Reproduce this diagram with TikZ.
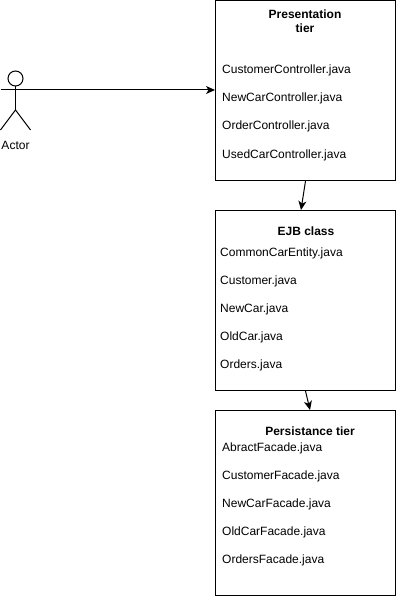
\documentclass[tikz,border=0pt]{standalone}
\usepackage{fontspec}
\setmainfont{Liberation Sans}
\usetikzlibrary{arrows.meta}

\tikzstyle{tier}=[draw=black,fill=white,line width=1pt,minimum width=180pt,inner sep=0pt]
\tikzstyle{item}=[anchor=base west,inner sep=0pt,font=\fontsize{12}{14}\selectfont]
\tikzstyle{heading}=[anchor=base,inner sep=0pt,font=\fontsize{12}{14}\selectfont\bfseries]
\tikzstyle{stick}=[draw=black,line width=1pt]
\tikzstyle{link}=[draw=black,line width=1pt,-{Stealth[length=9pt,width=8pt,inset=2.5pt]}]

\begin{document}
\begin{tikzpicture}[x=1pt,y=-1pt]

   \useasboundingbox (0,0) rectangle (401,596);

   % Actor

   \draw[stick] (15.5,78.5) circle (7.5);
   \draw[stick] (15.5,86) -- (15.5,110) coordinate(hip);
   \draw[stick] (0.5,90) -- (30.5,90) coordinate(arm);
   \draw[stick] (0.5,130) -- (hip) -- (30.5,130);
   \node[anchor=base,inner sep=0pt,font=\fontsize{12}{14}\selectfont] (actor) at (15.5,149.5) {Actor};

   % Presentation tier

   \node[tier,minimum height=180pt] (presentation) at (305.5,90.5) {};
   \node[heading] (presentationt) at (305,19) {Presentation};
   \node[heading] (presentationb) at (305,33) {tier};
   \node[item] (customerctl) at (222,74) {CustomerController.java};
   \node[item] (newcarctl) at (222,102) {NewCarController.java};
   \node[item] (orderctl) at (222,130) {OrderController.java};
   \node[item] (usedcarctl) at (222,158) {UsedCarController.java};

   % EJB class

   \node[tier,minimum height=180pt] (ejb) at (305.5,300.5) {};
   \node[heading] (ejbt) at (306,235) {EJB class};
   \node[item] (commoncar) at (220,256) {CommonCarEntity.java};
   \node[item] (customer) at (220,284) {Customer.java};
   \node[item] (newcar) at (220,312) {NewCar.java};
   \node[item] (oldcar) at (220,340) {OldCar.java};
   \node[item] (orders) at (220,368) {Orders.java};

   % Persistance tier

   \node[tier,minimum height=185pt] (persistance) at (305.5,503) {};
   \node[heading] (persistancet) at (310,435) {Persistance tier};
   \node[item] (abract) at (222,451) {AbractFacade.java};
   \node[item] (customerf) at (222,479) {CustomerFacade.java};
   \node[item] (newcarf) at (222,507) {NewCarFacade.java};
   \node[item] (oldcarf) at (222,535) {OldCarFacade.java};
   \node[item] (ordersf) at (222,563) {OrdersFacade.java};

   % Links

   \draw[link] (arm) -- (presentation.west |- arm);
   \draw[link] (presentation.south) -- ([xshift=-4.5pt]ejb.north);
   \draw[link] (ejb.south) -- ([xshift=4.5pt]persistance.north);

\end{tikzpicture}
\end{document}
